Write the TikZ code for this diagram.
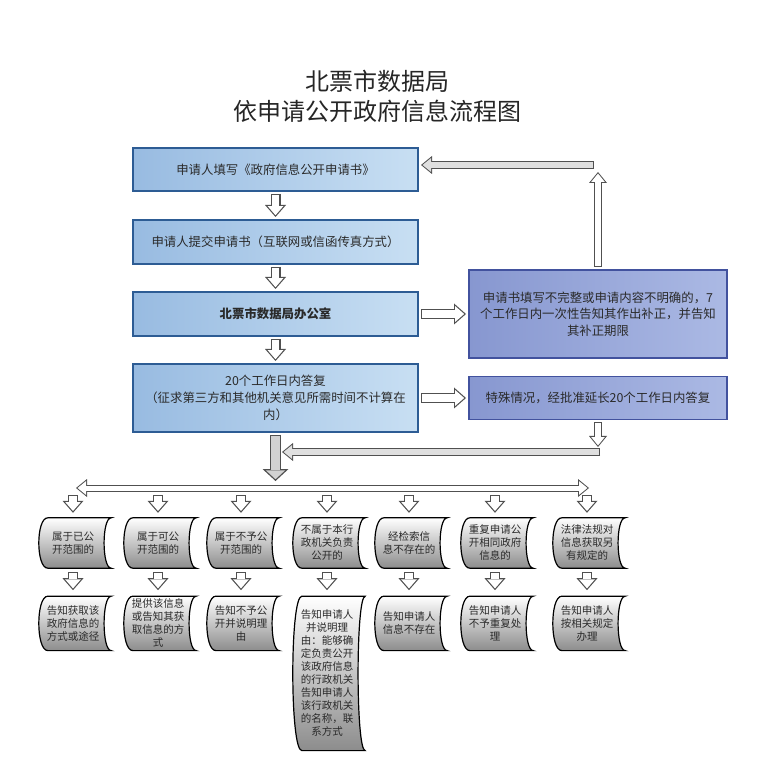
\documentclass[tikz,border=0pt]{standalone}
\usepackage{fontspec}
\setmainfont{Noto Sans CJK SC}
\usetikzlibrary{arrows.meta, positioning, backgrounds}

\definecolor{boxline}{HTML}{2D5C94}
\definecolor{boxleft}{HTML}{98BBE1}
\definecolor{boxright}{HTML}{C8DFF3}
\definecolor{noteline}{HTML}{42529E}
\definecolor{noteleft}{HTML}{8797D0}
\definecolor{noteright}{HTML}{ABB9E4}
\definecolor{arrowline}{HTML}{505050}
\definecolor{textgray}{HTML}{2A2A2A}

\tikzset{
  smallout/.tip={Triangle[length=12pt, width=21pt, line width=0pt]},
  smallin/.tip={Triangle[length=9pt, width=15.7pt, line width=0pt]},
  thinout/.tip={Triangle[length=11pt, width=18pt, line width=0pt]},
  thinin/.tip={Triangle[length=8.4pt, width=13.8pt, line width=0pt]},
  bigout/.tip={Triangle[length=12pt, width=26pt, line width=0pt]},
  bigin/.tip={Triangle[length=8.9pt, width=19.3pt, line width=0pt]}
}
\tikzstyle{mainbox} = [rectangle, minimum width=285pt, minimum height=44pt, align=center, draw=boxline, line width=1.6pt, left color=boxleft, right color=boxright, text=textgray, font=\fontsize{12.4}{17}\selectfont, outer sep=3pt]
\tikzstyle{notebox} = [mainbox, minimum width=258pt, draw=noteline, left color=noteleft, right color=noteright, font=\fontsize{12.4}{16.5}\selectfont]
\tikzstyle{casebox} = [rectangle, minimum width=66pt, minimum height=50pt, inner sep=1pt, align=center, text=textgray, font=\fontsize{10.5}{13}\selectfont]
\tikzstyle{casefill} = [draw=black, line width=1.2pt, top color=white, bottom color=black!45]
\tikzstyle{hollow} = [line width=7.6pt, draw=white, shorten <=1.2pt, shorten >=1.8pt, -smallin, preaction={draw=arrowline, line width=10pt, shorten <=0pt, shorten >=0pt, -smallout}]
\tikzstyle{thinhollow} = [line width=6pt, draw=white, shorten <=1pt, shorten >=1.6pt, -thinin, preaction={draw=arrowline, line width=8pt, shorten <=0pt, shorten >=0pt, -thinout}]
\tikzstyle{thinboth} = [line width=5pt, draw=white, shorten <=1.6pt, shorten >=1.6pt, thinin-thinin, preaction={draw=arrowline, line width=7pt, shorten <=0pt, shorten >=0pt, thinout-thinout}]
\tikzstyle{bighollow} = [line width=8.4pt, draw=gray!35, shorten <=1.3pt, shorten >=1.8pt, -bigin, preaction={draw=arrowline, line width=11pt, shorten <=0pt, shorten >=0pt, -bigout}]

\newcommand{\casedraw}[1]{%
  \shade [casefill] ([xshift=8pt]#1.north west) -- ([xshift=5pt]#1.north east)
    .. controls ([xshift=-4.5pt]#1.north east) and ([xshift=-4.5pt]#1.south east) .. ([xshift=5pt]#1.south east)
    -- ([xshift=8pt]#1.south west)
    .. controls ([xshift=-4pt]#1.south west) and ([xshift=-4pt]#1.north west) .. cycle;}

\begin{document}
\begin{tikzpicture}[x=1pt, y=-1pt]
  \useasboundingbox (0,0) rectangle (777,759);

  % Title
  \node (title) [align=center, text=black!85, font=\fontsize{24}{30}\selectfont] at (377,96) {北票市数据局\\依申请公开政府信息流程图};

  % Main column
  \node (fill) [mainbox, minimum height=43pt] at (275.5,169.5) {申请人填写《政府信息公开申请书》};
  \node (submit) [mainbox, below of=fill, node distance=72.5pt] {申请人提交申请书（互联网或信函传真方式）};
  \node (office) [mainbox, below of=submit, node distance=72pt, font=\fontsize{12.4}{17}\selectfont\bfseries] {北票市数据局办公室};
  \node (reply) [mainbox, below of=office, node distance=84pt, minimum height=68pt] {20个工作日内答复\\（征求第三方和其他机关意见所需时间不计算在\\内）};
  \node (correct) [notebox, right of=office, node distance=322.5pt, minimum height=88pt] {申请书填写不完整或申请内容不明确的，7\\个工作日内一次性告知其作出补正，并告知\\其补正期限};
  \node (extend) [notebox, right of=reply, node distance=322.5pt, minimum height=43pt] {特殊情况，经批准延长20个工作日内答复};

  % Cases
  \node (q1) [casebox] at (73,543) {属于已公\\开范围的};
  \node (q2) [casebox] at (158,543) {属于可公\\开范围的};
  \node (q3) [casebox] at (241,543) {属于不予公\\开范围的};
  \node (q4) [casebox] at (327,543) {不属于本行\\政机关负责\\公开的};
  \node (q5) [casebox] at (409,543) {经检索信\\息不存在的};
  \node (q6) [casebox] at (495,543) {重复申请公\\开相同政府\\信息的};
  \node (q7) [casebox] at (587,543) {法律法规对\\信息获取另\\有规定的};

  \node (r1) [casebox, below=28pt of q1, minimum height=54pt] {告知获取该\\政府信息的\\方式或途径};
  \node (r2) [casebox, below=28pt of q2, minimum height=54pt] {提供该信息\\或告知其获\\取信息的方\\式};
  \node (r3) [casebox, below=28pt of q3, minimum height=54pt] {告知不予公\\开并说明理\\由};
  \node (r4) [casebox, below=28pt of q4, minimum height=154pt] {告知申请人\\并说明理\\由：能够确\\定负责公开\\该政府信息\\的行政机关\\告知申请人\\该行政机关\\的名称，联\\系方式};
  \node (r5) [casebox, below=28pt of q5, minimum height=54pt] {告知申请人\\信息不存在};
  \node (r6) [casebox, below=28pt of q6, minimum height=54pt] {告知申请人\\不予重复处\\理};
  \node (r7) [casebox, below=28pt of q7, minimum height=54pt] {告知申请人\\按相关规定\\办理};

  \begin{scope}[on background layer]
    \fill [white] (0,0) rectangle (777,759);
    \foreach \n in {q1,q2,q3,q4,q5,q6,q7,r1,r2,r3,r4,r5,r6,r7} {\casedraw{\n}}
  \end{scope}

  % Coordinates
  \coordinate (uptip) at (598,172);
  \coordinate (back) at (594,165);
  \coordinate (downtip) at (598,447);
  \coordinate (merge) at (600,452);
  \coordinate (mergetip) at (282,452);
  \coordinate (split) at (275.5,481);
  \coordinate (barleft) at (76,488);
  \coordinate (barright) at (589,488);

  % Edges
  \draw [hollow] (fill) -- (submit);
  \draw [hollow] (submit) -- (office);
  \draw [hollow] (office) -- (reply);
  \draw [hollow] (office) -- (correct);
  \draw [hollow] (reply) -- (extend);
  \draw [thinhollow] (correct.north) -- (uptip);
  \draw [thinhollow, draw=gray!25] (back) -- (back -| fill.east);
  \draw [thinhollow] (extend.south) -- (downtip);
  \draw [thinhollow, draw=gray!25] (merge) -- (mergetip);
  \draw [bighollow] (reply.south) -- (split);
  \draw [thinboth] (barleft) -- (barright);
  \foreach \i in {1,...,7} {
    \draw [hollow] ([yshift=-7pt]barleft -| q\i) -- ([yshift=5pt]q\i.north);
    \draw [hollow] ([yshift=-4pt]q\i.south) -- ([yshift=6pt]r\i.north);
  }
\end{tikzpicture}
\end{document}
